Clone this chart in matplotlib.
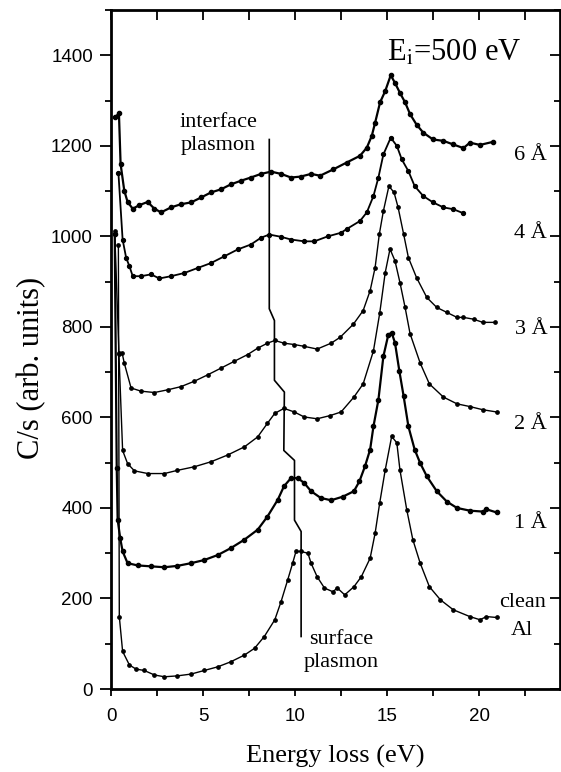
import matplotlib
matplotlib.use("Agg")
import matplotlib.pyplot as plt
from matplotlib.ticker import MultipleLocator

# energy loss (eV) and counts for each coverage
clean_e = [0.4, 0.45, 0.63, 1.0, 1.36, 1.8, 2.36, 2.9, 3.6, 4.35, 5.07, 5.8, 6.5, 7.25, 7.8, 8.33,
           8.9, 9.24, 9.6, 9.87, 10.05, 10.3, 10.7, 10.87, 11.2, 11.6, 12.05, 12.3, 12.7, 13.2, 13.6,
           14.08, 14.35, 14.6, 14.9, 15.25, 15.53, 15.7, 16.07, 16.4, 16.8, 17.3, 17.9, 18.6, 19.5,
           20.05, 20.4, 20.96]
clean_c = [980, 160, 83, 53, 44, 41, 31, 27, 29, 33, 41, 49, 60, 75, 90, 116,
           153, 193, 241, 278, 304, 304, 300, 278, 248, 223, 215, 223, 208, 226, 248,
           289, 344, 411, 484, 558, 544, 484, 396, 330, 278, 226, 197, 175, 160,
           153, 160, 158]

a1_e = [0.2, 0.31, 0.36, 0.5, 0.63, 0.9, 1.45, 2.17, 2.9, 3.6, 4.35, 5.07, 5.8, 6.5, 7.25, 7.97,
        8.5, 9.06, 9.4, 9.78, 10.15, 10.5, 10.87, 11.4, 11.96, 12.6, 13.2, 13.5, 13.8, 14.08,
        14.26, 14.53, 14.8, 15.07, 15.25, 15.43, 15.67, 15.9, 16.16, 16.5, 16.8, 17.16, 17.7,
        18.25, 18.8, 19.5, 20.2, 20.4, 20.96]
a1_c = [1005, 488, 374, 333, 304, 278, 273, 271, 269, 272, 278, 285, 296, 311, 330, 352,
        381, 418, 448, 466, 466, 455, 437, 422, 417, 425, 437, 459, 492, 529,
        580, 639, 735, 783, 787, 765, 702, 647, 580, 529, 499, 470, 437,
        414, 400, 394, 392, 397, 390]

a2_e = [0.43, 0.63, 0.9, 1.27, 2.0, 2.9, 3.6, 4.53, 5.43, 6.34, 7.25, 7.97, 8.5, 8.9, 9.4, 9.96,
        10.5, 11.2, 11.9, 12.5, 13.2, 13.7, 14.26, 14.6, 14.9, 15.16, 15.43, 15.7, 15.98, 16.25,
        16.8, 17.3, 18.06, 18.8, 19.5, 20.2, 20.96]
a2_c = [740, 527, 498, 482, 476, 476, 483, 491, 502, 517, 535, 557, 587, 609, 620, 612,
        601, 597, 604, 612, 645, 674, 747, 830, 920, 972, 946, 898, 843, 785,
        720, 674, 645, 630, 624, 617, 612]

a3_e = [0.2, 0.43, 0.6, 0.72, 1.09, 1.63, 2.36, 3.08, 3.8, 4.53, 5.25, 5.98, 6.7, 7.43, 7.97, 8.5,
        8.9, 9.4, 9.96, 10.5, 11.2, 11.96, 12.45, 13.17, 13.7, 14.08, 14.35, 14.58, 14.8, 15.1,
        15.38, 15.6, 15.9, 16.16, 16.6, 17.16, 17.7, 18.25, 18.8, 19.15, 19.7, 20.2, 20.87]
a3_c = [1011, 743, 743, 720, 665, 658, 655, 661, 668, 680, 694, 709, 724, 739, 753, 764,
        770, 764, 761, 757, 751, 764, 777, 806, 836, 880, 931, 1005, 1056, 1111,
        1097, 1064, 1005, 953, 909, 865, 843, 832, 821, 821, 817, 810, 810]

a4_e = [0.4, 0.63, 0.82, 1.0, 1.18, 1.63, 2.17, 2.63, 3.26, 3.98, 4.7, 5.43, 6.16, 6.88, 7.6, 8.15,
        8.6, 9.24, 9.78, 10.5, 11.05, 11.78, 12.5, 12.8, 13.53, 13.9, 14.26, 14.53, 14.8, 15.2,
        15.53, 15.8, 16.16, 16.5, 16.97, 17.5, 18.06, 18.6, 19.15]
a4_c = [1141, 993, 953, 934, 912, 912, 916, 907, 912, 919, 930, 941, 956, 971, 982, 997,
        1004, 999, 993, 989, 989, 1000, 1008, 1016, 1034, 1053, 1089, 1130, 1181, 1218,
        1200, 1170, 1144, 1111, 1089, 1075, 1064, 1060, 1051]

a6_e = [0.22, 0.43, 0.52, 0.72, 0.9, 1.18, 1.54, 1.99, 2.36, 2.72, 3.26, 3.8, 4.35, 4.9, 5.43, 5.98,
        6.52, 7.07, 7.6, 8.15, 8.7, 9.24, 9.78, 10.3, 10.87, 11.36, 12.08, 12.8, 13.53, 13.9,
        14.17, 14.35, 14.62, 14.9, 15.2, 15.43, 15.7, 15.98, 16.25, 16.6, 16.97, 17.5, 18.06,
        18.6, 19.15, 19.5, 20.05, 20.78]
a6_c = [1263, 1272, 1160, 1101, 1076, 1061, 1069, 1076, 1061, 1053, 1064, 1071, 1075, 1086, 1097, 1104,
        1115, 1123, 1130, 1138, 1143, 1138, 1130, 1132, 1138, 1134, 1148, 1163, 1178, 1196,
        1222, 1251, 1296, 1321, 1356, 1339, 1317, 1296, 1270, 1247, 1229, 1214, 1211,
        1203, 1195, 1207, 1202, 1209]

# interface / surface plasmon guide line
guide_e = [8.60, 8.60, 8.88, 8.88, 9.42, 9.39, 9.97, 9.97, 10.33, 10.33]
guide_c = [1214, 840, 814, 682, 656, 527, 505, 373, 348, 116]

# right-hand labels: text, baseline value
curve_labels = ["6 Å", "4 Å", "3 Å", "2 Å", "1 Å"]
curve_label_y = [1169, 997, 785, 575, 355]

serif = "Liberation Serif"
sans = "Liberation Sans"
plt.rcParams["mathtext.fontset"] = "stix"

fig = plt.figure(figsize=(5.61, 7.72), dpi=100)
ax = fig.add_axes([0.1979, 0.1075, 0.8004, 0.8795])

curves = [
    (clean_e, clean_c, 1.0, 2.4),
    (a1_e, a1_c, 1.6, 3.0),
    (a2_e, a2_c, 1.0, 2.4),
    (a3_e, a3_c, 1.0, 2.4),
    (a4_e, a4_c, 1.3, 2.8),
    (a6_e, a6_c, 1.6, 3.0),
]
for e, c, lw, ms in curves:
    ax.plot(e, c, color="black", lw=lw, marker="o", ms=ms, mec="black", mfc="black")

ax.plot(guide_e, guide_c, color="black", lw=1.2)

ax.set_xlim(0, 24.4)
ax.set_ylim(0, 1500)
ax.xaxis.set_major_locator(MultipleLocator(5))
ax.xaxis.set_minor_locator(MultipleLocator(2.5))
ax.yaxis.set_major_locator(MultipleLocator(200))
ax.yaxis.set_minor_locator(MultipleLocator(100))

ax.tick_params(axis="both", which="both", width=1.3, labelsize=13.5)
ax.tick_params(axis="y", which="major", left=True, right=True, direction="out", length=8, pad=5)
ax.tick_params(axis="y", which="minor", left=True, right=True, direction="out", length=4)
ax.tick_params(axis="x", which="major", bottom=True, top=True, direction="out", length=5, pad=9)
ax.tick_params(axis="x", which="minor", bottom=True, top=True, direction="out", length=5)
for t in ax.get_xticklabels() + ax.get_yticklabels():
    t.set_fontfamily(sans)

# top and right ticks point inward
for tl in ax.xaxis.get_ticklines(minor=False)[1::2] + ax.xaxis.get_ticklines(minor=True)[1::2]:
    tl.set_marker(3)
    tl.set_markersize(7)
for tl in ax.yaxis.get_ticklines(minor=False)[1::2]:
    tl.set_marker(0)
    tl.set_markersize(7)
for tl in ax.yaxis.get_ticklines(minor=True)[1::2]:
    tl.set_marker(0)
    tl.set_markersize(4)

for side in ax.spines.values():
    side.set_linewidth(2)

ax.set_xlabel("Energy loss (eV)", fontfamily=serif, fontsize=19, labelpad=14)
ax.set_ylabel("C/s (arb. units)", fontfamily=serif, fontsize=22, labelpad=6)
ax.yaxis.set_label_coords(-0.145, 0.473)

ax.text(15.0, 1405, r"E$_\mathrm{i}$=500 eV", fontfamily=serif, fontsize=22,
        ha="left", va="center")
ax.text(5.82, 1226, "interface\nplasmon", fontfamily=serif, fontsize=16,
        ha="center", va="center", linespacing=1.3)
ax.text(12.5, 84, "surface\nplasmon", fontfamily=serif, fontsize=16,
        ha="center", va="center", linespacing=1.3)

for txt, yv in zip(curve_labels, curve_label_y):
    ax.text(23.7, yv, txt, fontfamily=serif, fontsize=16, ha="right", va="baseline")
ax.text(22.34, 181, "clean", fontfamily=serif, fontsize=16, ha="center", va="baseline")
ax.text(22.34, 119, "Al", fontfamily=serif, fontsize=16, ha="center", va="baseline")

fig.savefig("out.png", dpi=100)
